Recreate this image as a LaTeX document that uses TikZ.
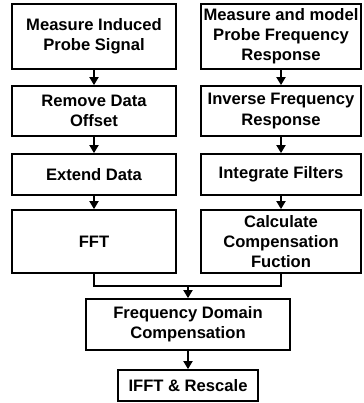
\documentclass[tikz,border=0pt]{standalone}
\usepackage{fontspec}
\setmainfont{Liberation Sans}
\usetikzlibrary{arrows.meta}

\begin{document}
\begin{tikzpicture} [x=1pt, y=1pt, line width=1.8pt]
    \tikzstyle{stepbox} = [draw, rectangle, inner sep=0pt, align=center,
        font=\fontsize{16.6}{20.2}\selectfont\bfseries]
    \tikzstyle{flow} = [draw, -{Triangle[length=8pt,width=9pt]}]

      \useasboundingbox (0,0) rectangle (363,403);

      % left column
      \node[stepbox, minimum width=164pt, minimum height=65pt] (sig)    at (94,366.5) {Measure Induced\\Probe Signal};
      \node[stepbox, minimum width=164pt, minimum height=50pt] (offs)   at (94,292)   {Remove Data\\Offset};
      \node[stepbox, minimum width=164pt, minimum height=41pt] (ext)    at (94,228.5) {Extend Data};
      \node[stepbox, minimum width=164pt, minimum height=63pt] (fft)    at (94,161.5) {FFT};

      % right column
      \node[stepbox, minimum width=160pt, minimum height=65pt] (resp)   at (281,366.5) {Measure and model\\Probe Frequency\\Response};
      \node[stepbox, minimum width=160pt, minimum height=50pt] (inv)    at (281,292)   {Inverse Frequency\\Response};
      \node[stepbox, minimum width=160pt, minimum height=41pt] (filt)   at (281,228.5) {Integrate Filters};
      \node[stepbox, minimum width=160pt, minimum height=63pt] (calc)   at (281,161.5) {Calculate\\Compensation\\Fuction};

      % bottom
      \node[stepbox, minimum width=204pt, minimum height=51pt] (fdc)    at (188,78.5) {Frequency Domain\\Compensation};
      \node[stepbox, minimum width=140pt, minimum height=31pt] (ifft)   at (188,17.5) {IFFT \& Rescale};
      \coordinate (merge) at (188,117);

      \draw[flow] (sig) -- (offs);
      \draw[flow] (offs) -- (ext);
      \draw[flow] (ext) -- (fft);
      \draw[flow] (resp) -- (inv);
      \draw[flow] (inv) -- (filt);
      \draw[flow] (filt) -- (calc);
      \draw (fft.south) |- (merge) -| (calc.south);
      \draw[flow] (merge) -- (fdc);
      \draw[flow] (fdc) -- (ifft);
    \end{tikzpicture}
\end{document}
